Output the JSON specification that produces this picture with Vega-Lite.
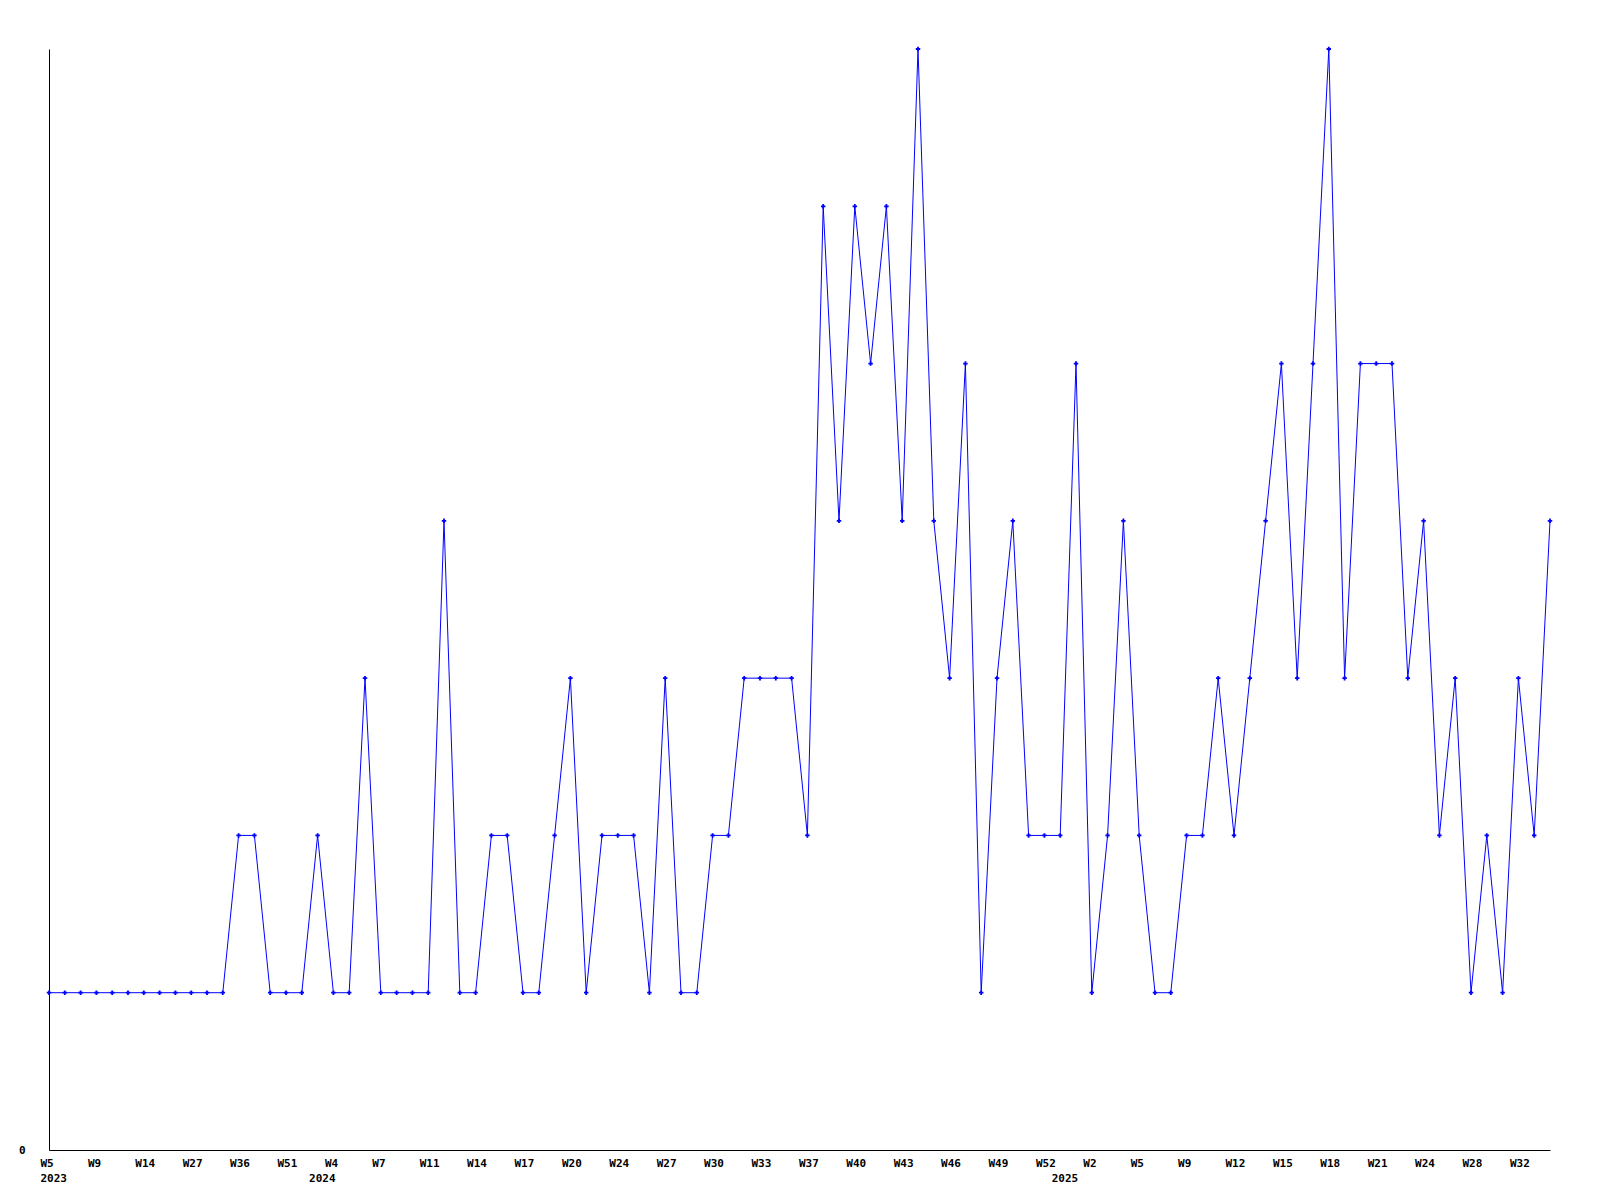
{
  "$schema": "https://vega.github.io/schema/vega-lite/v6.json",
  "autosize": {"type": "none"},
  "width": 1501,
  "height": 1101,
  "padding": {"left": 49, "top": 49, "right": 50, "bottom": 50},
  "background": "white",
  "config": {
    "view": {"stroke": null},
    "axis": {"labelFont": "DejaVu Sans Mono", "labelFontWeight": "bold", "labelFontSize": 11, "labelColor": "black", "domainColor": "black", "domainWidth": 1, "ticks": false, "grid": false, "title": null}
  },
  "data": {"values": [
    {"year":2023,"week":"W5","key":"2023-W5","count":1},
    {"year":2023,"week":"W6","key":"2023-W6","count":1},
    {"year":2023,"week":"W7","key":"2023-W7","count":1},
    {"year":2023,"week":"W9","key":"2023-W9","count":1},
    {"year":2023,"week":"W10","key":"2023-W10","count":1},
    {"year":2023,"week":"W12","key":"2023-W12","count":1},
    {"year":2023,"week":"W14","key":"2023-W14","count":1},
    {"year":2023,"week":"W17","key":"2023-W17","count":1},
    {"year":2023,"week":"W22","key":"2023-W22","count":1},
    {"year":2023,"week":"W27","key":"2023-W27","count":1},
    {"year":2023,"week":"W30","key":"2023-W30","count":1},
    {"year":2023,"week":"W33","key":"2023-W33","count":1},
    {"year":2023,"week":"W36","key":"2023-W36","count":2},
    {"year":2023,"week":"W40","key":"2023-W40","count":2},
    {"year":2023,"week":"W45","key":"2023-W45","count":1},
    {"year":2023,"week":"W51","key":"2023-W51","count":1},
    {"year":2023,"week":"W52","key":"2023-W52","count":1},
    {"year":2024,"week":"W2","key":"2024-W2","count":2},
    {"year":2024,"week":"W4","key":"2024-W4","count":1},
    {"year":2024,"week":"W5","key":"2024-W5","count":1},
    {"year":2024,"week":"W6","key":"2024-W6","count":3},
    {"year":2024,"week":"W7","key":"2024-W7","count":1},
    {"year":2024,"week":"W8","key":"2024-W8","count":1},
    {"year":2024,"week":"W10","key":"2024-W10","count":1},
    {"year":2024,"week":"W11","key":"2024-W11","count":1},
    {"year":2024,"week":"W12","key":"2024-W12","count":4},
    {"year":2024,"week":"W13","key":"2024-W13","count":1},
    {"year":2024,"week":"W14","key":"2024-W14","count":1},
    {"year":2024,"week":"W15","key":"2024-W15","count":2},
    {"year":2024,"week":"W16","key":"2024-W16","count":2},
    {"year":2024,"week":"W17","key":"2024-W17","count":1},
    {"year":2024,"week":"W18","key":"2024-W18","count":1},
    {"year":2024,"week":"W19","key":"2024-W19","count":2},
    {"year":2024,"week":"W20","key":"2024-W20","count":3},
    {"year":2024,"week":"W22","key":"2024-W22","count":1},
    {"year":2024,"week":"W23","key":"2024-W23","count":2},
    {"year":2024,"week":"W24","key":"2024-W24","count":2},
    {"year":2024,"week":"W25","key":"2024-W25","count":2},
    {"year":2024,"week":"W26","key":"2024-W26","count":1},
    {"year":2024,"week":"W27","key":"2024-W27","count":3},
    {"year":2024,"week":"W28","key":"2024-W28","count":1},
    {"year":2024,"week":"W29","key":"2024-W29","count":1},
    {"year":2024,"week":"W30","key":"2024-W30","count":2},
    {"year":2024,"week":"W31","key":"2024-W31","count":2},
    {"year":2024,"week":"W32","key":"2024-W32","count":3},
    {"year":2024,"week":"W33","key":"2024-W33","count":3},
    {"year":2024,"week":"W34","key":"2024-W34","count":3},
    {"year":2024,"week":"W36","key":"2024-W36","count":3},
    {"year":2024,"week":"W37","key":"2024-W37","count":2},
    {"year":2024,"week":"W38","key":"2024-W38","count":6},
    {"year":2024,"week":"W39","key":"2024-W39","count":4},
    {"year":2024,"week":"W40","key":"2024-W40","count":6},
    {"year":2024,"week":"W41","key":"2024-W41","count":5},
    {"year":2024,"week":"W42","key":"2024-W42","count":6},
    {"year":2024,"week":"W43","key":"2024-W43","count":4},
    {"year":2024,"week":"W44","key":"2024-W44","count":7},
    {"year":2024,"week":"W45","key":"2024-W45","count":4},
    {"year":2024,"week":"W46","key":"2024-W46","count":3},
    {"year":2024,"week":"W47","key":"2024-W47","count":5},
    {"year":2024,"week":"W48","key":"2024-W48","count":1},
    {"year":2024,"week":"W49","key":"2024-W49","count":3},
    {"year":2024,"week":"W50","key":"2024-W50","count":4},
    {"year":2024,"week":"W51","key":"2024-W51","count":2},
    {"year":2024,"week":"W52","key":"2024-W52","count":2},
    {"year":2025,"week":"W0","key":"2025-W0","count":2},
    {"year":2025,"week":"W1","key":"2025-W1","count":5},
    {"year":2025,"week":"W2","key":"2025-W2","count":1},
    {"year":2025,"week":"W3","key":"2025-W3","count":2},
    {"year":2025,"week":"W4","key":"2025-W4","count":4},
    {"year":2025,"week":"W5","key":"2025-W5","count":2},
    {"year":2025,"week":"W6","key":"2025-W6","count":1},
    {"year":2025,"week":"W8","key":"2025-W8","count":1},
    {"year":2025,"week":"W9","key":"2025-W9","count":2},
    {"year":2025,"week":"W10","key":"2025-W10","count":2},
    {"year":2025,"week":"W11","key":"2025-W11","count":3},
    {"year":2025,"week":"W12","key":"2025-W12","count":2},
    {"year":2025,"week":"W13","key":"2025-W13","count":3},
    {"year":2025,"week":"W14","key":"2025-W14","count":4},
    {"year":2025,"week":"W15","key":"2025-W15","count":5},
    {"year":2025,"week":"W16","key":"2025-W16","count":3},
    {"year":2025,"week":"W17","key":"2025-W17","count":5},
    {"year":2025,"week":"W18","key":"2025-W18","count":7},
    {"year":2025,"week":"W19","key":"2025-W19","count":3},
    {"year":2025,"week":"W20","key":"2025-W20","count":5},
    {"year":2025,"week":"W21","key":"2025-W21","count":5},
    {"year":2025,"week":"W22","key":"2025-W22","count":5},
    {"year":2025,"week":"W23","key":"2025-W23","count":3},
    {"year":2025,"week":"W24","key":"2025-W24","count":4},
    {"year":2025,"week":"W26","key":"2025-W26","count":2},
    {"year":2025,"week":"W27","key":"2025-W27","count":3},
    {"year":2025,"week":"W28","key":"2025-W28","count":1},
    {"year":2025,"week":"W30","key":"2025-W30","count":2},
    {"year":2025,"week":"W31","key":"2025-W31","count":1},
    {"year":2025,"week":"W32","key":"2025-W32","count":3},
    {"year":2025,"week":"W33","key":"2025-W33","count":2},
    {"year":2025,"week":"W34","key":"2025-W34","count":4}
  ]},
  "encoding": {
    "x": {
      "field": "key", "type": "ordinal", "sort": null,
      "scale": {"type": "point", "padding": 0},
      "axis": {
        "labelAngle": 0,
        "labelAlign": "left",
        "labelOffset": -9,
        "labelPadding": 7,
        "labelLineHeight": 15,
        "labelOverlap": false,
        "labelBound": false,
        "labelFlush": false,
        "values": ["2023-W5","2023-W9","2023-W14","2023-W27","2023-W36","2023-W51","2024-W2","2024-W4","2024-W7","2024-W11","2024-W14","2024-W17","2024-W20","2024-W24","2024-W27","2024-W30","2024-W33","2024-W37","2024-W40","2024-W43","2024-W46","2024-W49","2024-W52","2025-W0","2025-W2","2025-W5","2025-W9","2025-W12","2025-W15","2025-W18","2025-W21","2025-W24","2025-W28","2025-W32"],
        "labelExpr": "datum.value == '2023-W5' ? ['W5', '2023'] : datum.value == '2024-W2' ? ['', '2024'] : datum.value == '2025-W0' ? ['', '2025'] : substring(datum.value, 5)"
      }
    },
    "y": {
      "field": "count", "type": "quantitative",
      "scale": {"domain": [0, 7], "nice": false, "zero": true},
      "axis": {"values": [0], "labelPadding": 24}
    }
  },
  "layer": [
    {"mark": {"type": "line", "color": "#0000FF", "strokeWidth": 1, "interpolate": "linear"}},
    {"mark": {"type": "point", "shape": "cross", "filled": true, "color": "#0000FF", "size": 20, "opacity": 1}}
  ]
}
